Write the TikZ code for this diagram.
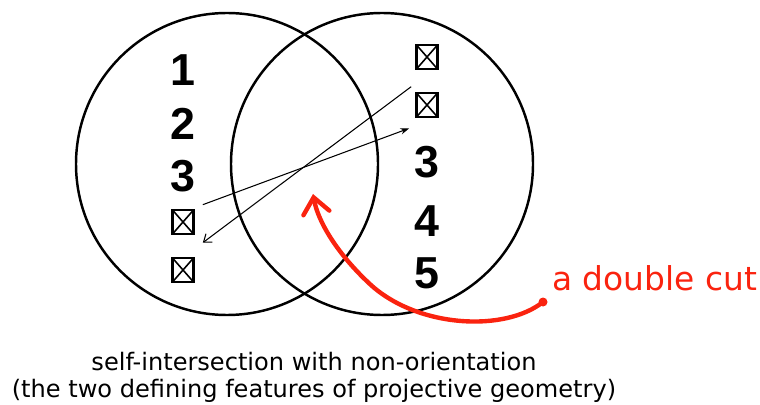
\documentclass[tikz,border=0pt]{standalone}
\usepackage{fontspec}
\setmainfont{DejaVu Sans}
\newfontfamily\digitfont{Liberation Sans}
\usetikzlibrary{arrows.meta,calc}
\definecolor{cutred}{RGB}{250,35,15}

\begin{document}
\begin{tikzpicture}[x=0.02cm,y=-0.02cm,
  num/.style={font=\digitfont\bfseries\fontsize{25.5}{26}\selectfont,inner sep=0pt},
  xbox/.style={draw,line width=1.5pt,minimum width=0.42cm,minimum height=0.48cm,inner sep=0pt,
    path picture={\draw[line width=0.9pt] (path picture bounding box.north west) -- (path picture bounding box.south east)
      (path picture bounding box.north east) -- (path picture bounding box.south west);}},
  captext/.style={font=\fontsize{13.7}{15}\selectfont,inner sep=0pt}]
\useasboundingbox (0,0) rectangle (760,405);
% the two overlapping cuts
\draw[line width=1.4pt] (227,164) circle[radius=151];
\draw[line width=1.4pt] (382,164) circle[radius=151];
% left column
\foreach \n/\y in {1/70,2/124,3/176} \node[num] (l\n) at (183,\y) {\n};
\node[xbox] (lb1) at (183,222) {};
\node[xbox] (lb2) at (183,270) {};
% right column
\node[xbox] (rb1) at (427,57) {};
\node[xbox] (rb2) at (427,105) {};
\foreach \n/\y in {3/162,4/221,5/273} \node[num] (r\n) at (427,\y) {\n};
% crossing arrows
\draw[line width=0.6pt,-{Stealth[length=5pt,width=3.5pt]}] ([shift={(8,-4)}]lb1.north east) -- ([shift={(-6,10)}]rb2.south west);
\draw[line width=0.6pt,-{Straight Barb[length=4pt,width=6pt]}] ([shift={(-4,-5)}]rb2.north west) -- ([shift={(8,-14)}]lb2.north east);
% the double cut label
\node[font=\fontsize{18.7}{19}\selectfont,text=cutred,inner sep=0pt,anchor=base west] (dcut) at (552,290) {a double cut};
\coordinate (dot) at ([shift={(-9,12)}]dcut.base west);
\coordinate (lens) at (313,194);
\fill[cutred] (dot) circle[radius=4.5];
\draw[cutred,line width=2.5pt,line cap=round,-{Straight Barb[length=9pt,width=15pt,line cap=round]}] (dot) .. controls (505,332) and (420,328) .. (372,286) .. controls (338,255) and (318,222) .. (lens);
% caption
\node[captext,anchor=base] (cap1) at (314,370) {self-intersection with non-orientation};
\node[captext,anchor=base] (cap2) at (314,397) {(the two defining features of projective geometry)};
\end{tikzpicture}
\end{document}
